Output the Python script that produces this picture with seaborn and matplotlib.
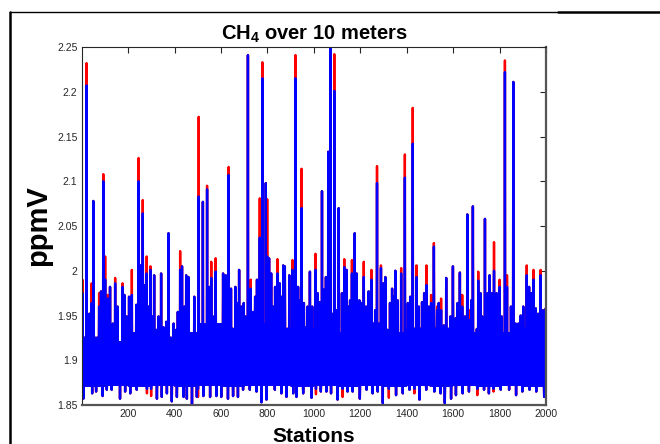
import numpy as np
import pandas as pd
import seaborn as sns
import matplotlib.pyplot as plt
from matplotlib.lines import Line2D

sns.set_style("white")
plt.rcParams['font.family'] = ['Liberation Sans', 'DejaVu Sans']
plt.rcParams['mathtext.fontset'] = 'custom'
plt.rcParams['mathtext.rm'] = 'Liberation Sans:bold'
plt.rcParams['mathtext.it'] = 'Liberation Sans:bold'
plt.rcParams['mathtext.default'] = 'rm'

# stations 1..2000
n_stations = 2000

# dense band of the trace, per 100-station block
core_top = [1.925, 1.920, 1.930, 1.925, 1.930, 1.940, 1.935, 1.940, 1.935, 1.930,
            1.935, 1.930, 1.935, 1.930, 1.935, 1.935, 1.930, 1.935, 1.930, 1.935]
core_bot = [1.872, 1.873, 1.872, 1.873, 1.872, 1.873, 1.872, 1.873, 1.873, 1.872,
            1.873, 1.872, 1.873, 1.872, 1.873, 1.872, 1.873, 1.872, 1.873, 1.872]

# spikes above the band: station, blue (10 m) value, red value
spike_st = [3, 21, 33, 43, 50, 75, 83, 93, 101, 111, 122, 134, 144, 154, 176, 184, 194, 204,
            216, 235, 245, 253, 263, 270, 280, 288, 296, 304, 312, 321, 331, 342, 352, 364,
            374, 396, 407, 414, 424, 432, 442, 450, 460, 475, 485, 496, 504,
            522, 540, 551, 558, 565, 577, 588, 609, 620, 633, 643, 652, 662, 671, 678, 688,
            698, 706, 716, 728, 738, 747, 755, 767, 778, 793, 799, 807, 816, 824, 833, 843,
            853, 862, 868, 875, 894, 908, 921, 932, 940, 947, 957, 965, 973, 983, 993, 1007,
            1016, 1026, 1035, 1043, 1052, 1062, 1072, 1078, 1088, 1098, 1107, 1121, 1131,
            1141, 1150, 1156, 1164, 1176, 1184, 1196, 1206, 1215, 1225, 1236, 1248, 1256,
            1264, 1272, 1282, 1289, 1299, 1308, 1318, 1328, 1337, 1344, 1351, 1361, 1376,
            1392, 1405, 1415, 1426, 1442, 1452, 1466, 1475, 1485, 1495, 1505,
            1517, 1531, 1538, 1548, 1560, 1570, 1589, 1599, 1610, 1619, 1629, 1639, 1651,
            1661, 1671, 1678, 1685, 1708, 1718, 1725, 1737, 1748, 1757, 1766, 1776, 1787,
            1800, 1809, 1823, 1832, 1841, 1849, 1859, 1869, 1881, 1891, 1902, 1917, 1927,
            1936, 1946, 1956, 1966, 1977, 1987, 1999]
spike_blue = [1.975, 2.207, 1.952, 1.964, 2.078, 1.960, 1.977, 2.100, 1.990, 1.969, 1.982, 1.941,
              1.986, 1.960, 1.982, 1.973, 1.949, 1.971, 1.973, 1.962, 2.100, 2.006, 2.064, 1.984,
              1.997, 1.960, 2.001, 1.949, 1.995, 1.934, 1.949, 1.997, 1.937, 1.943, 2.042, 1.941,
              1.934, 1.954, 2.001, 2.005, 1.960, 1.995, 1.993, 2.007, 1.971, 1.951, 2.083,
              2.077, 2.091, 1.982, 1.992, 1.949, 1.999, 1.934, 1.997, 1.995, 2.107, 1.980, 1.984,
              1.982, 1.964, 2.001, 1.960, 1.964, 1.949, 2.241, 1.980, 1.954, 1.971, 1.990, 2.037,
              2.215, 2.098, 2.016, 2.014, 1.997, 1.960, 1.982, 1.997, 1.986, 1.971, 2.006, 2.005,
              1.995, 2.001, 2.215, 1.982, 1.967, 2.070, 1.964, 1.937, 1.960, 1.999, 1.960, 2.001,
              1.975, 1.965, 2.089, 1.979, 1.993, 2.133, 2.255, 1.952, 2.201, 1.956, 2.070, 1.975,
              2.004, 2.001, 1.960, 1.967, 1.997, 2.042, 1.997, 1.967, 1.964, 1.993, 1.960, 1.977,
              1.990, 1.941, 1.956, 2.098, 1.941, 2.003, 1.986, 1.993, 1.934, 1.964, 1.980, 1.971,
              2.000, 1.967, 1.997, 2.104, 1.964, 1.971, 2.142, 1.993, 1.960, 1.965, 1.975, 1.984,
              1.960, 1.964,
              2.027, 1.956, 1.964, 1.956, 1.939, 1.992, 1.949, 2.005, 1.947, 1.964, 1.998, 1.960,
              1.949, 2.063, 1.945, 1.967, 2.072, 1.989, 1.975, 1.949, 2.058, 1.975, 1.995, 1.975,
              2.000, 1.975, 1.982, 1.949, 2.222, 1.982, 1.949, 1.960, 2.211, 1.941, 1.941, 1.950,
              1.960, 1.995, 1.982, 1.975, 1.990, 1.958, 1.952, 1.995, 1.956, 1.958]
spike_red = [1.990, 2.232, 1.952, 1.986, 2.078, 1.975, 1.977, 2.108, 2.016, 1.973, 1.982, 1.941,
             1.992, 1.960, 1.986, 1.973, 1.949, 1.971, 2.001, 1.962, 2.126, 2.006, 2.079, 1.984,
             2.016, 1.960, 2.005, 1.949, 1.995, 1.934, 1.949, 1.997, 1.937, 1.943, 2.042, 1.941,
             1.934, 1.954, 2.022, 2.005, 1.960, 1.995, 1.993, 2.007, 1.971, 1.951, 2.172,
             2.077, 2.095, 1.982, 2.010, 1.949, 2.014, 1.934, 1.997, 1.995, 2.116, 1.980, 1.984,
             1.982, 1.964, 2.001, 1.960, 1.964, 1.949, 2.241, 1.990, 1.954, 1.971, 1.990, 2.081,
             2.233, 2.098, 2.080, 2.014, 1.997, 1.960, 1.982, 2.013, 1.986, 1.971, 2.006, 2.005,
             1.995, 2.012, 2.241, 1.982, 1.967, 2.114, 1.964, 1.937, 1.960, 1.999, 1.960, 2.019,
             1.975, 1.965, 2.089, 1.979, 1.993, 2.133, 2.255, 1.952, 2.242, 1.956, 2.070, 1.975,
             2.013, 2.001, 1.960, 1.967, 2.012, 2.042, 1.997, 1.967, 1.964, 2.010, 1.960, 1.977,
             2.001, 1.941, 1.956, 2.117, 1.941, 2.006, 1.986, 1.993, 1.934, 1.964, 1.980, 1.971,
             2.000, 1.967, 2.003, 2.130, 1.964, 1.971, 2.182, 2.006, 1.960, 1.965, 1.975, 2.006,
             1.960, 1.973,
             2.031, 1.960, 1.964, 1.969, 1.939, 1.992, 1.949, 2.005, 1.947, 1.964, 1.998, 1.973,
             1.949, 2.063, 1.956, 1.967, 2.072, 1.999, 1.975, 1.949, 2.058, 1.975, 1.995, 1.975,
             2.032, 1.975, 1.990, 1.949, 2.235, 1.995, 1.949, 1.960, 2.211, 1.941, 1.941, 1.950,
             1.960, 2.006, 1.982, 1.975, 2.001, 1.958, 1.952, 2.001, 1.956, 1.958]

# dips below the band: station, blue value, red value
dip_st = [7, 45, 62, 90, 108, 129, 165, 187, 209, 237, 281, 299, 324, 345, 367, 388, 410, 439,
          453, 475, 496, 501, 524, 553, 580, 601, 630, 652, 673, 695, 724, 753, 774, 796, 832,
          860, 882, 911, 925, 954, 990, 1009, 1030, 1054, 1074, 1102, 1124, 1145, 1167, 1198,
          1227, 1253, 1275, 1297, 1323, 1354, 1383, 1412, 1433, 1455, 1484, 1519, 1546, 1564,
          1591, 1612, 1641, 1668, 1704, 1733, 1754, 1774, 1805, 1841, 1871, 1898, 1929, 1958,
          1992]
dip_blue = [1.857, 1.863, 1.865, 1.860, 1.867, 1.867, 1.857, 1.865, 1.863, 1.867, 1.868, 1.868,
            1.857, 1.859, 1.863, 1.854, 1.859, 1.859, 1.857, 1.851, 1.859, 1.868, 1.860, 1.859,
            1.860, 1.859, 1.857, 1.860, 1.859, 1.867, 1.867, 1.865, 1.853, 1.856, 1.867, 1.863,
            1.859, 1.863, 1.859, 1.863, 1.858, 1.868, 1.865, 1.865, 1.863, 1.856, 1.868, 1.865,
            1.865, 1.857, 1.867, 1.863, 1.865, 1.852, 1.868, 1.861, 1.863, 1.867, 1.868, 1.856,
            1.867, 1.865, 1.863, 1.852, 1.857, 1.861, 1.863, 1.865, 1.868, 1.867, 1.863, 1.868,
            1.867, 1.867, 1.861, 1.865, 1.867, 1.865, 1.859]
dip_red = [1.857, 1.863, 1.865, 1.860, 1.867, 1.867, 1.857, 1.865, 1.863, 1.867, 1.863, 1.860,
           1.857, 1.859, 1.863, 1.854, 1.859, 1.859, 1.857, 1.851, 1.859, 1.859, 1.860, 1.859,
           1.860, 1.859, 1.857, 1.860, 1.859, 1.867, 1.867, 1.865, 1.853, 1.856, 1.867, 1.863,
           1.859, 1.863, 1.859, 1.863, 1.858, 1.862, 1.865, 1.865, 1.863, 1.856, 1.859, 1.865,
           1.865, 1.857, 1.867, 1.863, 1.865, 1.852, 1.858, 1.861, 1.863, 1.867, 1.863, 1.856,
           1.867, 1.865, 1.863, 1.852, 1.857, 1.861, 1.863, 1.865, 1.861, 1.867, 1.863, 1.865,
           1.867, 1.867, 1.861, 1.865, 1.867, 1.865, 1.859]

x_ticks = [200, 400, 600, 800, 1000, 1200, 1400, 1600, 1800, 2000]
y_ticks = [1.85, 1.9, 1.95, 2.0, 2.05, 2.1, 2.15, 2.2, 2.25]
y_ticklabels = ['1.85', '1.9', '1.95', '2', '2.05', '2.1', '2.15', '2.2', '2.25']

# build the two traces
stations = np.arange(1, n_stations + 1)
band = np.where(stations % 2 == 0, np.repeat(core_top, 100), np.repeat(core_bot, 100))
blue = band.copy()
red = band.copy()
idx = np.array(spike_st) - 1
blue[idx] = spike_blue
red[idx] = spike_red
idx = np.array(dip_st) - 1
blue[idx] = dip_blue
red[idx] = dip_red

df = pd.DataFrame({'station': stations, 'red': red, 'blue': blue})

fig = plt.figure(figsize=(6.6, 4.44), dpi=100)
ax = fig.add_axes([0.1238, 0.0878, 0.7035, 0.8063])

sns.lineplot(data=df, x='station', y='red', color='#ff0000', lw=1.7,
             estimator=None, sort=False, ax=ax)
sns.lineplot(data=df, x='station', y='blue', color='#0000ff', lw=1.7,
             estimator=None, sort=False, ax=ax)

ax.set_xlim(0, 2000)
ax.set_ylim(1.85, 2.25)
ax.set_xticks(x_ticks)
ax.set_xticklabels([str(t) for t in x_ticks])
ax.set_yticks(y_ticks)
ax.set_yticklabels(y_ticklabels)
ax.tick_params(direction='in', top=True, right=True, length=4.5, width=0.8,
               color='#262626', labelcolor='#262626', labelsize=7.5, pad=3)
for side in ['left', 'top']:
    ax.spines[side].set_color('#262626')
    ax.spines[side].set_linewidth(0.8)
for side in ['right', 'bottom']:
    ax.spines[side].set_color('#555555')
    ax.spines[side].set_linewidth(1.6)

ax.set_title(r'CH$_4$ over 10 meters', fontsize=14.5, fontweight='bold', pad=5, color='black')
ax.set_xlabel('Stations', fontsize=15, fontweight='bold', color='black')
ax.set_ylabel('ppmV', fontsize=21, fontweight='bold', color='black')
ax.xaxis.set_label_coords(0.5, -0.062)
ax.yaxis.set_label_coords(-0.064, 0.5)

# outer frame of the original screenshot
fig.add_artist(Line2D([0.0152, 0.0152], [0.0, 0.972], color='black', lw=1.8))
fig.add_artist(Line2D([0.0152, 0.845], [0.972, 0.972], color='black', lw=1.0))
fig.add_artist(Line2D([0.845, 1.0], [0.972, 0.972], color='black', lw=1.8))

fig.savefig('out.png', dpi=100)
